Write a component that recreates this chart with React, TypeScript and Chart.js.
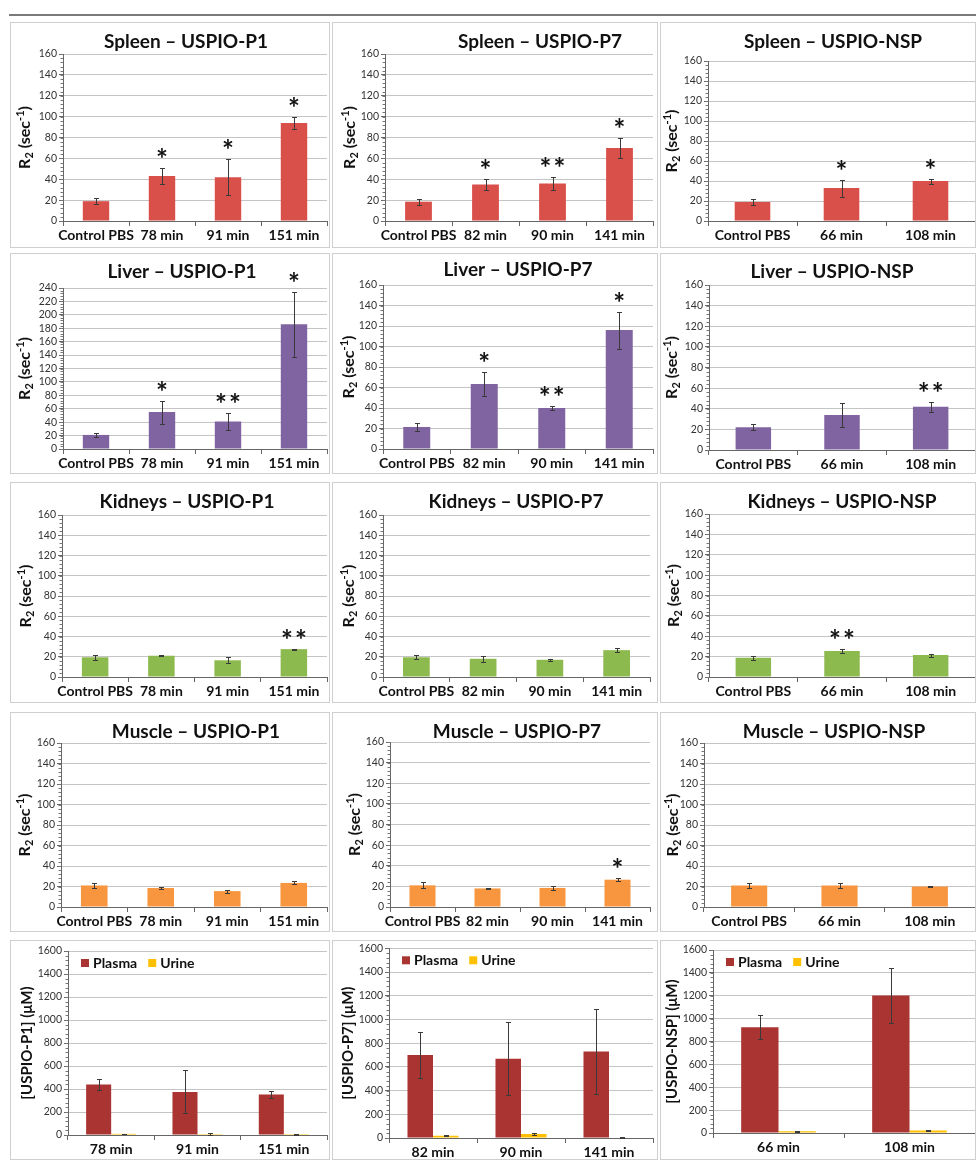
import React, { useEffect, useRef } from "react";
import { Chart, registerables } from "chart.js";

Chart.register(...registerables);

const FONT = "Lato, 'Open Sans', 'DejaVu Sans', sans-serif";

// ---------------- data ----------------
const p1Labels = ["Control PBS", "78 min", "91 min", "151 min"];
const p7Labels = ["Control PBS", "82 min", "90 min", "141 min"];
const nspLabels = ["Control PBS", "66 min", "108 min"];

const spleenP1Values = [19, 43, 42, 94];
const spleenP1Errors = [3, 8, 17.5, 6];
const spleenP1Stars = ["", "*", "*", "*"];

const spleenP7Values = [18.5, 35, 36, 70];
const spleenP7Errors = [3, 5, 6, 10];
const spleenP7Stars = ["", "*", "**", "*"];

const spleenNspValues = [19, 33, 40];
const spleenNspErrors = [3, 8.5, 2.5];
const spleenNspStars = ["", "*", "*"];

const liverP1Values = [21, 55, 41, 186];
const liverP1Errors = [3, 17, 13, 48.5];
const liverP1Stars = ["", "*", "**", "*"];

const liverP7Values = [21.5, 63.5, 40, 116];
const liverP7Errors = [3.5, 11.5, 1.5, 18];
const liverP7Stars = ["", "*", "**", "*"];

const liverNspValues = [22, 34, 42];
const liverNspErrors = [3, 12, 5];
const liverNspStars = ["", "", "**"];

const kidneysP1Values = [19.5, 21, 16.5, 27.5];
const kidneysP1Errors = [2.5, 0.5, 2.8, 0.6];
const kidneysP1Stars = ["", "", "", "**"];

const kidneysP7Values = [19.5, 18, 17, 26.5];
const kidneysP7Errors = [2, 3, 1.2, 2.2];
const kidneysP7Stars = ["", "", "", ""];

const kidneysNspValues = [19, 25.5, 21.5];
const kidneysNspErrors = [2, 2, 1.5];
const kidneysNspStars = ["", "**", ""];

const muscleP1Values = [21, 18.5, 15.5, 23.5];
const muscleP1Errors = [2.5, 0.8, 1.5, 1.5];
const muscleP1Stars = ["", "", "", ""];

const muscleP7Values = [21, 18, 18.5, 26.5];
const muscleP7Errors = [3, 0.6, 1.6, 1.5];
const muscleP7Stars = ["", "", "", "*"];

const muscleNspValues = [21, 21, 20];
const muscleNspErrors = [2.5, 2.5, 0.5];
const muscleNspStars = ["", "", ""];

const concP1Labels = ["78 min", "91 min", "151 min"];
const plasmaP1Values = [440, 375, 352];
const plasmaP1Errors = [45, 188, 33];
const urineP1Values = [10, 8, 8];
const urineP1Errors = [2, 8, 4];

const concP7Labels = ["82 min", "90 min", "141 min"];
const plasmaP7Values = [700, 668, 730];
const plasmaP7Errors = [190, 308, 360];
const urineP7Values = [18, 33, 5];
const urineP7Errors = [4, 9, 2];

const concNspLabels = ["66 min", "108 min"];
const plasmaNspValues = [925, 1203];
const plasmaNspErrors = [105, 237];
const urineNspValues = [15, 22];
const urineNspErrors = [3, 4];

// ---------------- styles ----------------
const RED = "#d9504b";
const PURPLE = "#8064a2";
const GREEN = "#8dba4f";
const ORANGE = "#f7963f";
const PLASMA = "#a93431";
const URINE = "#ffc000";

type Series = { label: string; values: number[]; errors: number[]; color: string };
type Panel = {
  box: number[];
  plot: number[];
  title?: string;
  titleX?: number;
  titleY?: number;
  yTitle: string;
  r2: boolean;
  yTitleX: number;
  yMax: number;
  yStep: number;
  labels: string[];
  series: Series[];
  stars?: string[];
  legend?: boolean;
  barPct: number;
  catPct: number;
};

const one = (label: string, values: number[], errors: number[], color: string): Series[] => [
  { label, values, errors, color },
];

const COLX = [10, 332, 660];
const COLW = [320, 326, 316];

const panels: Panel[] = [
  // Row 1 - Spleen
  {
    box: [COLX[0], 22, COLW[0], 226], plot: [63, 54, 327, 221],
    title: "Spleen – USPIO-P1", titleX: 186, titleY: 42, yTitle: "", r2: true, yTitleX: 25,
    yMax: 160, yStep: 20, labels: p1Labels, series: one("R2", spleenP1Values, spleenP1Errors, RED),
    stars: spleenP1Stars, barPct: 0.4, catPct: 1,
  },
  {
    box: [COLX[1], 22, COLW[1], 226], plot: [385, 54, 653, 221],
    title: "Spleen – USPIO-P7", titleX: 540, titleY: 42, yTitle: "", r2: true, yTitleX: 350,
    yMax: 160, yStep: 20, labels: p7Labels, series: one("R2", spleenP7Values, spleenP7Errors, RED),
    stars: spleenP7Stars, barPct: 0.4, catPct: 1,
  },
  {
    box: [COLX[2], 22, COLW[2], 226], plot: [708, 61, 975, 221],
    title: "Spleen – USPIO-NSP", titleX: 833, titleY: 42, yTitle: "", r2: true, yTitleX: 672,
    yMax: 160, yStep: 20, labels: nspLabels, series: one("R2", spleenNspValues, spleenNspErrors, RED),
    stars: spleenNspStars, barPct: 0.4, catPct: 1,
  },
  // Row 2 - Liver
  {
    box: [COLX[0], 253, COLW[0], 221], plot: [63, 288, 327, 449],
    title: "Liver – USPIO-P1", titleX: 182, titleY: 272, yTitle: "", r2: true, yTitleX: 25,
    yMax: 240, yStep: 20, labels: p1Labels, series: one("R2", liverP1Values, liverP1Errors, PURPLE),
    stars: liverP1Stars, barPct: 0.4, catPct: 1,
  },
  {
    box: [COLX[1], 253, COLW[1], 221], plot: [383, 285, 653, 449],
    title: "Liver – USPIO-P7", titleX: 518, titleY: 270, yTitle: "", r2: true, yTitleX: 349,
    yMax: 160, yStep: 20, labels: p7Labels, series: one("R2", liverP7Values, liverP7Errors, PURPLE),
    stars: liverP7Stars, barPct: 0.4, catPct: 1,
  },
  {
    box: [COLX[2], 253, COLW[2], 221], plot: [709, 285, 975, 450],
    title: "Liver – USPIO-NSP", titleX: 832, titleY: 272, yTitle: "", r2: true, yTitleX: 672,
    yMax: 160, yStep: 20, labels: nspLabels, series: one("R2", liverNspValues, liverNspErrors, PURPLE),
    stars: liverNspStars, barPct: 0.4, catPct: 1,
  },
  // Row 3 - Kidneys
  {
    box: [COLX[0], 482, COLW[0], 221], plot: [62, 515, 327, 677],
    title: "Kidneys – USPIO-P1", titleX: 187, titleY: 502, yTitle: "", r2: true, yTitleX: 26,
    yMax: 160, yStep: 20, labels: p1Labels, series: one("R2", kidneysP1Values, kidneysP1Errors, GREEN),
    stars: kidneysP1Stars, barPct: 0.4, catPct: 1,
  },
  {
    box: [COLX[1], 482, COLW[1], 221], plot: [383, 515, 650, 677],
    title: "Kidneys – USPIO-P7", titleX: 516, titleY: 502, yTitle: "", r2: true, yTitleX: 349,
    yMax: 160, yStep: 20, labels: p7Labels, series: one("R2", kidneysP7Values, kidneysP7Errors, GREEN),
    stars: kidneysP7Stars, barPct: 0.4, catPct: 1,
  },
  {
    box: [COLX[2], 482, COLW[2], 221], plot: [709, 514, 975, 677],
    title: "Kidneys – USPIO-NSP", titleX: 842, titleY: 502, yTitle: "", r2: true, yTitleX: 674,
    yMax: 160, yStep: 20, labels: nspLabels, series: one("R2", kidneysNspValues, kidneysNspErrors, GREEN),
    stars: kidneysNspStars, barPct: 0.4, catPct: 1,
  },
  // Row 4 - Muscle
  {
    box: [COLX[0], 712, COLW[0], 220], plot: [61, 743, 327, 907],
    title: "Muscle – USPIO-P1", titleX: 196, titleY: 732, yTitle: "", r2: true, yTitleX: 25,
    yMax: 160, yStep: 20, labels: p1Labels, series: one("R2", muscleP1Values, muscleP1Errors, ORANGE),
    stars: muscleP1Stars, barPct: 0.4, catPct: 1,
  },
  {
    box: [COLX[1], 712, COLW[1], 220], plot: [390, 742, 650, 907],
    title: "Muscle – USPIO-P7", titleX: 517, titleY: 732, yTitle: "", r2: true, yTitleX: 355,
    yMax: 160, yStep: 20, labels: p7Labels, series: one("R2", muscleP7Values, muscleP7Errors, ORANGE),
    stars: muscleP7Stars, barPct: 0.4, catPct: 1,
  },
  {
    box: [COLX[2], 712, COLW[2], 220], plot: [704, 743, 975, 907],
    title: "Muscle – USPIO-NSP", titleX: 834, titleY: 732, yTitle: "", r2: true, yTitleX: 673,
    yMax: 160, yStep: 20, labels: nspLabels, series: one("R2", muscleNspValues, muscleNspErrors, ORANGE),
    stars: muscleNspStars, barPct: 0.4, catPct: 1,
  },
  // Row 5 - Plasma / Urine
  {
    box: [COLX[0], 940, COLW[0], 220], plot: [68, 951, 327, 1135],
    yTitle: "[USPIO-P1] (μM)", r2: false, yTitleX: 27,
    yMax: 1600, yStep: 200, labels: concP1Labels,
    series: [
      { label: "Plasma", values: plasmaP1Values, errors: plasmaP1Errors, color: PLASMA },
      { label: "Urine", values: urineP1Values, errors: urineP1Errors, color: URINE },
    ],
    legend: true, barPct: 1, catPct: 0.58,
  },
  {
    box: [COLX[1], 940, COLW[1], 220], plot: [389, 948, 653, 1138],
    yTitle: "[USPIO-P7] (μM)", r2: false, yTitleX: 348,
    yMax: 1600, yStep: 200, labels: concP7Labels,
    series: [
      { label: "Plasma", values: plasmaP7Values, errors: plasmaP7Errors, color: PLASMA },
      { label: "Urine", values: urineP7Values, errors: urineP7Errors, color: URINE },
    ],
    legend: true, barPct: 1, catPct: 0.58,
  },
  {
    box: [COLX[2], 940, COLW[2], 220], plot: [713, 950, 975, 1133],
    yTitle: "[USPIO-NSP] (μM)", r2: false, yTitleX: 672,
    yMax: 1600, yStep: 200, labels: concNspLabels,
    series: [
      { label: "Plasma", values: plasmaNspValues, errors: plasmaNspErrors, color: PLASMA },
      { label: "Urine", values: urineNspValues, errors: urineNspErrors, color: URINE },
    ],
    legend: true, barPct: 1, catPct: 0.57,
  },
];

function drawStar(ctx: CanvasRenderingContext2D, text: string, x: number, yCenter: number) {
  ctx.font = `bold 28px ${FONT}`;
  ctx.textAlign = "center";
  ctx.textBaseline = "alphabetic";
  const m = ctx.measureText("*");
  const asc = m.actualBoundingBoxAscent || 16;
  const desc = m.actualBoundingBoxDescent || -5;
  const base = yCenter + (asc - desc) / 2;
  if (text === "**") {
    ctx.fillText("*", x - 7, base);
    ctx.fillText("*", x + 7, base);
  } else if (text === "*") {
    ctx.fillText("*", x, base);
  }
}

function ChartPanel({ p }: { p: Panel }) {
  const ref = useRef<HTMLCanvasElement>(null);
  const [bx, by, bw, bh] = p.box;
  const [pl, pt, pr, pb] = p.plot;

  useEffect(() => {
    if (!ref.current) return;
    const plugin = {
      id: "panelDecor",
      afterDatasetsDraw(chart: any) {
        const ctx = chart.ctx as CanvasRenderingContext2D;
        const ys = chart.scales.y;
        ctx.save();
        p.series.forEach((s, di) => {
          const meta = chart.getDatasetMeta(di);
          meta.data.forEach((el: any, i: number) => {
            const v = s.values[i];
            const e = s.errors[i];
            const yT = Math.round(ys.getPixelForValue(v + e)) + 0.5;
            const yB = Math.round(ys.getPixelForValue(Math.max(0, v - e))) + 0.5;
            const x = Math.round(el.x) + 0.5;
            ctx.strokeStyle = "#3a3a3a";
            ctx.lineWidth = 1;
            ctx.beginPath();
            ctx.moveTo(x, yT);
            ctx.lineTo(x, yB);
            ctx.moveTo(x - 2.5, yT);
            ctx.lineTo(x + 2.5, yT);
            ctx.moveTo(x - 2.5, yB);
            ctx.lineTo(x + 2.5, yB);
            ctx.stroke();
            if (p.stars && p.stars[i] && di === 0) {
              ctx.fillStyle = "#111";
              drawStar(ctx, p.stars[i], el.x, ys.getPixelForValue(v + e) - 15);
            }
          });
        });
        ctx.restore();
      },
      afterDraw(chart: any) {
        const ctx = chart.ctx as CanvasRenderingContext2D;
        const ys = chart.scales.y;
        const area = chart.chartArea;
        ctx.save();
        // minor ticks on y axis
        ctx.strokeStyle = "#777";
        ctx.lineWidth = 1;
        const minor = p.yStep / 5;
        for (let v = 0; v <= p.yMax + 1e-9; v += minor) {
          const y = Math.round(ys.getPixelForValue(v)) + 0.5;
          ctx.beginPath();
          ctx.moveTo(area.left - 2.5, y);
          ctx.lineTo(area.left, y);
          ctx.stroke();
        }
        // title
        if (p.title) {
          ctx.fillStyle = "#111";
          ctx.font = `bold 19px ${FONT}`;
          ctx.textAlign = "center";
          ctx.textBaseline = "middle";
          ctx.fillText(p.title, (p.titleX as number) - bx, (p.titleY as number) - by);
        }
        // y title
        const cy = (area.top + area.bottom) / 2;
        ctx.translate(p.yTitleX - bx, cy);
        ctx.rotate(-Math.PI / 2);
        ctx.fillStyle = "#111";
        ctx.textBaseline = "middle";
        ctx.textAlign = "left";
        if (p.r2) {
          const segs = [
            { t: "R", s: 16, dy: 0 },
            { t: "2", s: 11, dy: 4 },
            { t: " (sec", s: 16, dy: 0 },
            { t: "-1", s: 11, dy: -5 },
            { t: ")", s: 16, dy: 0 },
          ];
          let total = 0;
          segs.forEach((sg) => {
            ctx.font = `bold ${sg.s}px ${FONT}`;
            total += ctx.measureText(sg.t).width;
          });
          let x = -total / 2;
          segs.forEach((sg) => {
            ctx.font = `bold ${sg.s}px ${FONT}`;
            ctx.fillText(sg.t, x, sg.dy);
            x += ctx.measureText(sg.t).width;
          });
        } else {
          ctx.font = `bold 15px ${FONT}`;
          ctx.textAlign = "center";
          ctx.fillText(p.yTitle, 0, 0);
        }
        ctx.setTransform(chart.currentDevicePixelRatio, 0, 0, chart.currentDevicePixelRatio, 0, 0);
        // legend
        if (p.legend) {
          let x = area.left + 13;
          const yc = area.top + 12;
          ctx.font = `bold 14px ${FONT}`;
          ctx.textAlign = "left";
          ctx.textBaseline = "middle";
          p.series.forEach((s) => {
            ctx.fillStyle = s.color;
            ctx.fillRect(x, yc - 4, 8, 8);
            ctx.fillStyle = "#111";
            ctx.fillText(s.label, x + 12, yc + 0.5);
            x += 12 + ctx.measureText(s.label).width + 11;
          });
        }
        ctx.restore();
      },
    };

    const chart = new Chart(ref.current, {
      type: "bar",
      data: {
        labels: p.labels,
        datasets: p.series.map((s) => ({
          label: s.label,
          data: s.values,
          backgroundColor: s.color,
          borderWidth: 0,
          categoryPercentage: p.catPct,
          barPercentage: p.barPct,
        })),
      },
      options: {
        animation: false,
        responsive: false,
        maintainAspectRatio: false,
        events: [],
        layout: { padding: { left: 0, top: pt - by, right: bx + bw - pr, bottom: 0 } },
        plugins: { legend: { display: false }, tooltip: { enabled: false }, title: { display: false } },
        scales: {
          x: {
            offset: true,
            grid: {
              display: true,
              drawOnChartArea: false,
              drawTicks: true,
              tickLength: 5,
              tickColor: "#666",
              offset: true,
            },
            border: { color: "#666", width: 1 },
            ticks: {
              color: "#111",
              font: { family: FONT, size: 14, weight: "bold" },
              maxRotation: 0,
              minRotation: 0,
              autoSkip: false,
              padding: 1,
            },
            afterFit: (s: any) => {
              s.height = by + bh - pb;
            },
          },
          y: {
            min: 0,
            max: p.yMax,
            grid: { color: "#c4c4c4", lineWidth: 1, tickColor: "#666", tickLength: 4 },
            border: { color: "#666", width: 1 },
            ticks: {
              stepSize: p.yStep,
              autoSkip: false,
              color: "#333",
              font: { family: FONT, size: 10.5 },
              padding: 2,
              callback: (v: any) => String(v),
            },
            afterFit: (s: any) => {
              s.width = pl - bx;
            },
          },
        },
      } as any,
      plugins: [plugin as any],
    });
    return () => chart.destroy();
  }, [p]);

  return (
    <canvas
      ref={ref}
      width={bw}
      height={bh}
      style={{ position: "absolute", left: bx, top: by, width: bw, height: bh }}
    />
  );
}

export default function App() {
  return (
    <div
      style={{
        position: "absolute",
        left: 0,
        top: 0,
        width: 976,
        height: 1160,
        background: "#fff",
        overflow: "hidden",
      }}
    >
      {panels.map((p, i) => (
        <ChartPanel key={i} p={p} />
      ))}
      {panels.map((p, i) => (
        <div
          key={"b" + i}
          style={{
            position: "absolute",
            left: p.box[0],
            top: p.box[1],
            width: p.box[2],
            height: p.box[3],
            boxSizing: "border-box",
            border: "1px solid #cfcfcf",
            pointerEvents: "none",
          }}
        />
      ))}
      <div style={{ position: "absolute", left: 9, top: 14, width: 967, height: 2, background: "#7a7a7a" }} />
    </div>
  );
}
